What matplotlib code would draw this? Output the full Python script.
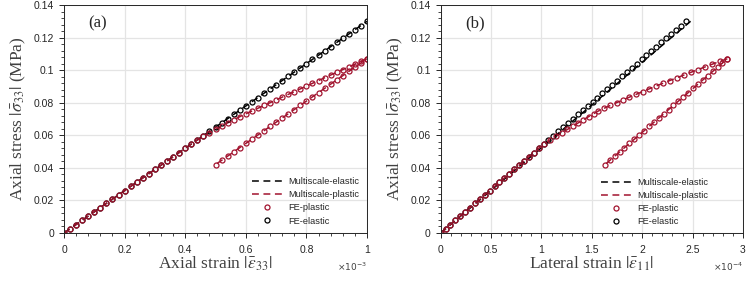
import matplotlib
matplotlib.use('Agg')
import matplotlib.pyplot as plt
from matplotlib.ticker import MultipleLocator

# axial strain in units of 1e-3, lateral strain in units of 1e-4, stress in MPa
axial_load = [0.00, 0.02, 0.04, 0.06, 0.08, 0.10, 0.12, 0.14, 0.16, 0.18, 0.20,
              0.22, 0.24, 0.26, 0.28, 0.30, 0.32, 0.34, 0.36, 0.38, 0.40, 0.42,
              0.44, 0.46, 0.48, 0.50, 0.52, 0.54, 0.56, 0.58, 0.60, 0.62, 0.64,
              0.66, 0.68, 0.70, 0.72, 0.74, 0.76, 0.78, 0.80, 0.82, 0.84, 0.86,
              0.88, 0.90, 0.92, 0.94, 0.96, 0.98, 1.00]
stress_elastic = [0.0000, 0.0026, 0.0052, 0.0078, 0.0104, 0.0130, 0.0156, 0.0182,
                  0.0208, 0.0234, 0.0260, 0.0286, 0.0312, 0.0338, 0.0364, 0.0390,
                  0.0416, 0.0442, 0.0468, 0.0494, 0.0520, 0.0546, 0.0572, 0.0598,
                  0.0624, 0.0650, 0.0676, 0.0702, 0.0728, 0.0754, 0.0780, 0.0806,
                  0.0832, 0.0858, 0.0884, 0.0910, 0.0936, 0.0962, 0.0988, 0.1014,
                  0.1040, 0.1066, 0.1092, 0.1118, 0.1144, 0.1170, 0.1196, 0.1222,
                  0.1248, 0.1274, 0.1300]
lateral_elastic = [0.000, 0.049, 0.097, 0.146, 0.194, 0.243, 0.292, 0.340, 0.389,
                   0.437, 0.486, 0.535, 0.583, 0.632, 0.680, 0.729, 0.778, 0.826,
                   0.875, 0.923, 0.972, 1.021, 1.069, 1.118, 1.166, 1.215, 1.264,
                   1.312, 1.361, 1.409, 1.458, 1.507, 1.555, 1.604, 1.652, 1.701,
                   1.750, 1.798, 1.847, 1.895, 1.944, 1.993, 2.041, 2.090, 2.138,
                   2.187, 2.236, 2.284, 2.333, 2.381, 2.430]
stress_plastic = [0.0000, 0.0026, 0.0052, 0.0078, 0.0104, 0.0130, 0.0156, 0.0182,
                  0.0208, 0.0234, 0.0260, 0.0286, 0.0312, 0.0338, 0.0364, 0.0390,
                  0.0416, 0.0442, 0.0468, 0.0494, 0.0520, 0.0546, 0.0570, 0.0593,
                  0.0615, 0.0636, 0.0656, 0.0676, 0.0695, 0.0714, 0.0732, 0.0749,
                  0.0766, 0.0783, 0.0800, 0.0817, 0.0834, 0.0851, 0.0868, 0.0885,
                  0.0902, 0.0919, 0.0936, 0.0953, 0.0970, 0.0987, 0.1003, 0.1020,
                  0.1037, 0.1054, 0.1070]
lateral_plastic = [0.000, 0.049, 0.097, 0.146, 0.194, 0.243, 0.292, 0.340, 0.389,
                   0.437, 0.486, 0.535, 0.583, 0.632, 0.680, 0.729, 0.778, 0.826,
                   0.875, 0.923, 0.972, 1.021, 1.083, 1.143, 1.201, 1.258, 1.311,
                   1.364, 1.415, 1.467, 1.517, 1.564, 1.622, 1.683, 1.745, 1.809,
                   1.872, 1.938, 2.003, 2.069, 2.135, 2.205, 2.273, 2.343, 2.414,
                   2.485, 2.552, 2.624, 2.697, 2.770, 2.845]
axial_unload = [1.00, 0.98, 0.96, 0.94, 0.92, 0.90, 0.88, 0.86, 0.84, 0.82, 0.80,
                0.78, 0.76, 0.74, 0.72, 0.70, 0.68, 0.66, 0.64, 0.62, 0.60, 0.58,
                0.56, 0.54, 0.52, 0.50]
stress_unload = [0.1070, 0.1044, 0.1018, 0.0992, 0.0966, 0.0940, 0.0914, 0.0888,
                 0.0862, 0.0836, 0.0810, 0.0784, 0.0758, 0.0732, 0.0706, 0.0680,
                 0.0654, 0.0628, 0.0602, 0.0576, 0.0550, 0.0524, 0.0498, 0.0472,
                 0.0446, 0.0420]
lateral_unload = [2.845, 2.796, 2.748, 2.699, 2.651, 2.602, 2.553, 2.505, 2.456,
                  2.408, 2.359, 2.310, 2.262, 2.213, 2.165, 2.116, 2.067, 2.019,
                  1.970, 1.922, 1.873, 1.824, 1.776, 1.727, 1.679, 1.630]

# multiscale elastic prediction (straight line)
ms_stress_elastic = [0.0, 0.13]
ms_axial_elastic = [0.0, 1.0]
ms_lateral_elastic = [0.0, 2.48]

RED = '#A2142F'
DARK = '#262626'
plt.rcParams['mathtext.fontset'] = 'stix'


def draw_panel(ax, x_el, x_pl, x_un, x_ms, xmax, xstep, xminor, xlabel, tag, power, leg_xy):
    ms_kw = dict(ls=(0, (4.5, 3)), lw=1.1)
    l1, = ax.plot(x_ms, ms_stress_elastic, color='k', **ms_kw)
    l2, = ax.plot(x_pl + x_un, stress_plastic + stress_unload, color=RED, **ms_kw)
    mk = dict(ls='none', marker='o', ms=3.6, mfc='none', mew=0.9)
    p2, = ax.plot(x_el, stress_elastic, color='k', **mk)
    p1, = ax.plot(x_pl + x_un, stress_plastic + stress_unload, color=RED, **mk)

    ax.set_xlim(0, xmax)
    ax.set_ylim(0, 0.14)
    ax.xaxis.set_major_locator(MultipleLocator(xstep))
    ax.xaxis.set_minor_locator(MultipleLocator(xminor))
    ax.yaxis.set_major_locator(MultipleLocator(0.02))
    ax.yaxis.set_minor_locator(MultipleLocator(0.004))
    ax.xaxis.set_major_formatter(plt.FuncFormatter(lambda v, p: f'{v:g}'))
    ax.yaxis.set_major_formatter(plt.FuncFormatter(lambda v, p: f'{v:g}'))
    ax.grid(True, which='major', color='#e4e4e4', lw=0.9)
    ax.set_axisbelow(True)
    ax.tick_params(which='major', direction='out', length=3.6, width=0.7, colors=DARK,
                   labelsize=7.5)
    ax.tick_params(which='minor', direction='out', length=2.0, width=0.6, colors=DARK)
    ax.tick_params(axis='x', which='major', pad=5)
    for lab in ax.get_xticklabels() + ax.get_yticklabels():
        lab.set_fontfamily('Liberation Sans')
    for s in ax.spines.values():
        s.set_color(DARK)
        s.set_linewidth(0.7)

    ax.set_xlabel(xlabel, fontsize=12.5, family='Liberation Serif', color='#404040', labelpad=0)
    ax.set_ylabel(r'Axial stress $|\bar{\sigma}_{33}|$ (MPa)', fontsize=12.5,
                  family='Liberation Serif', color='#404040', labelpad=4)
    ax.text(0.08, 0.92, tag, transform=ax.transAxes, fontsize=12,
            family='Liberation Serif', color=DARK, va='center')
    ax.text(1.0, -0.15, r'$\times10^{%d}$' % power, transform=ax.transAxes, ha='right',
            va='center', fontsize=6.5, color='#404040', math_fontfamily='dejavusans')

    leg = ax.legend([l1, l2, p1, p2],
                    ['Multiscale-elastic', 'Multiscale-plastic', 'FE-plastic', 'FE-elastic'],
                    loc='upper left', bbox_to_anchor=leg_xy, frameon=False,
                    prop={'family': 'Liberation Sans', 'size': 6.7},
                    handlelength=3.3, handletextpad=0.6, labelspacing=0.45, borderpad=0)
    for t in leg.get_texts():
        t.set_color(DARK)


fig = plt.figure(figsize=(7.47, 2.86), dpi=100)
ax1 = fig.add_axes([64 / 747, 53 / 286, 303 / 747, 228 / 286])
ax2 = fig.add_axes([440.7 / 747, 53 / 286, 302.3 / 747, 228 / 286])

draw_panel(ax1, axial_load, axial_load, axial_unload, ms_axial_elastic, 1.0, 0.2, 0.04,
           r'Axial strain $|\bar{\varepsilon}_{33}|$', '(a)', -3, (0.604, 0.266))
draw_panel(ax2, lateral_elastic, lateral_plastic, lateral_unload, ms_lateral_elastic, 3.0, 0.5, 0.1,
           r'Lateral strain $|\bar{\varepsilon}_{11}|$', '(b)', -4, (0.514, 0.262))

fig.savefig('out.png', dpi=100)
